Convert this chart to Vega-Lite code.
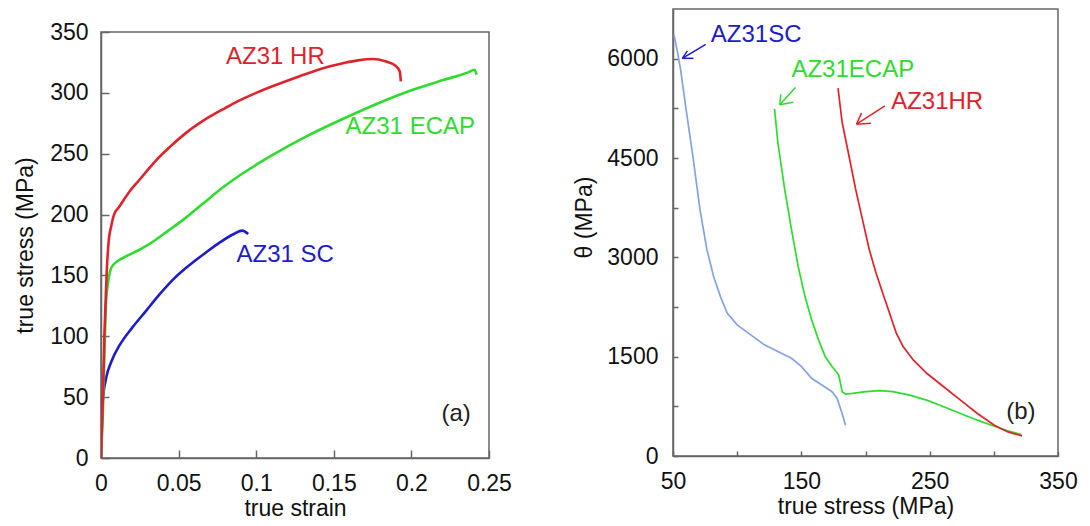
{
  "$schema": "https://vega.github.io/schema/vega-lite/v6.json",
  "padding": {"left": 13, "top": 8, "right": 0, "bottom": 0},
  "background": "white",
  "spacing": 60,
  "config": {
    "view": {"stroke": "#666666", "strokeWidth": 1.5},
    "axis": {
      "labelFont": "Liberation Sans", "labelFontSize": 23, "labelColor": "#111111",
      "titleFont": "Liberation Sans", "titleFontSize": 23, "titleFontWeight": "normal", "titleColor": "#111111",
      "domainColor": "#666666", "domainWidth": 1.5, "tickColor": "#666666", "tickWidth": 1.5,
      "grid": false, "labelFlush": false, "labelOverlap": false
    },
    "text": {"font": "Liberation Sans"}
  },
  "datasets": {
    "a": [
      {"key": "SC", "i": 0, "strain": 0, "stress": 0},
      {"key": "SC", "i": 1, "strain": 0.0011, "stress": 46.3},
      {"key": "SC", "i": 2, "strain": 0.0033, "stress": 65.6},
      {"key": "SC", "i": 3, "strain": 0.0067, "stress": 79.3},
      {"key": "SC", "i": 4, "strain": 0.0122, "stress": 93.1},
      {"key": "SC", "i": 5, "strain": 0.02, "stress": 106.9},
      {"key": "SC", "i": 6, "strain": 0.0289, "stress": 120.7},
      {"key": "SC", "i": 7, "strain": 0.0377, "stress": 134.4},
      {"key": "SC", "i": 8, "strain": 0.0477, "stress": 148.2},
      {"key": "SC", "i": 9, "strain": 0.0577, "stress": 159.2},
      {"key": "SC", "i": 10, "strain": 0.0677, "stress": 168.9},
      {"key": "SC", "i": 11, "strain": 0.0766, "stress": 177.1},
      {"key": "SC", "i": 12, "strain": 0.0855, "stress": 184},
      {"key": "SC", "i": 13, "strain": 0.091, "stress": 186.8},
      {"key": "SC", "i": 14, "strain": 0.0948, "stress": 184},
      {"key": "ECAP", "i": 0, "strain": 0, "stress": 0},
      {"key": "ECAP", "i": 1, "strain": 0.0015, "stress": 50},
      {"key": "ECAP", "i": 2, "strain": 0.0025, "stress": 100},
      {"key": "ECAP", "i": 3, "strain": 0.0033, "stress": 128.9},
      {"key": "ECAP", "i": 4, "strain": 0.0044, "stress": 142.7},
      {"key": "ECAP", "i": 5, "strain": 0.0067, "stress": 156.5},
      {"key": "ECAP", "i": 6, "strain": 0.011, "stress": 162},
      {"key": "ECAP", "i": 7, "strain": 0.0167, "stress": 166},
      {"key": "ECAP", "i": 8, "strain": 0.0255, "stress": 171.6},
      {"key": "ECAP", "i": 9, "strain": 0.0344, "stress": 178.5},
      {"key": "ECAP", "i": 10, "strain": 0.0433, "stress": 186.8},
      {"key": "ECAP", "i": 11, "strain": 0.0522, "stress": 195},
      {"key": "ECAP", "i": 12, "strain": 0.0655, "stress": 208.8},
      {"key": "ECAP", "i": 13, "strain": 0.0788, "stress": 222.6},
      {"key": "ECAP", "i": 14, "strain": 0.0944, "stress": 236.4},
      {"key": "ECAP", "i": 15, "strain": 0.112, "stress": 250},
      {"key": "ECAP", "i": 16, "strain": 0.132, "stress": 264},
      {"key": "ECAP", "i": 17, "strain": 0.1543, "stress": 277.7},
      {"key": "ECAP", "i": 18, "strain": 0.1787, "stress": 291.5},
      {"key": "ECAP", "i": 19, "strain": 0.2009, "stress": 302.5},
      {"key": "ECAP", "i": 20, "strain": 0.2209, "stress": 310.7},
      {"key": "ECAP", "i": 21, "strain": 0.2365, "stress": 316.8},
      {"key": "ECAP", "i": 22, "strain": 0.2405, "stress": 319},
      {"key": "ECAP", "i": 23, "strain": 0.2415, "stress": 317},
      {"key": "ECAP", "i": 24, "strain": 0.242, "stress": 314.9},
      {"key": "HR", "i": 0, "strain": 0, "stress": 0},
      {"key": "HR", "i": 1, "strain": 0.0012, "stress": 50},
      {"key": "HR", "i": 2, "strain": 0.0022, "stress": 101},
      {"key": "HR", "i": 3, "strain": 0.003, "stress": 130},
      {"key": "HR", "i": 4, "strain": 0.0038, "stress": 156},
      {"key": "HR", "i": 5, "strain": 0.0051, "stress": 180},
      {"key": "HR", "i": 6, "strain": 0.0065, "stress": 190},
      {"key": "HR", "i": 7, "strain": 0.0084, "stress": 200},
      {"key": "HR", "i": 8, "strain": 0.0115, "stress": 206},
      {"key": "HR", "i": 9, "strain": 0.0144, "stress": 211.6},
      {"key": "HR", "i": 10, "strain": 0.019, "stress": 220},
      {"key": "HR", "i": 11, "strain": 0.0244, "stress": 228},
      {"key": "HR", "i": 12, "strain": 0.03, "stress": 236.5},
      {"key": "HR", "i": 13, "strain": 0.0355, "stress": 244.6},
      {"key": "HR", "i": 14, "strain": 0.0444, "stress": 255.6},
      {"key": "HR", "i": 15, "strain": 0.0544, "stress": 266.7},
      {"key": "HR", "i": 16, "strain": 0.07, "stress": 280.4},
      {"key": "HR", "i": 17, "strain": 0.08, "stress": 287.5},
      {"key": "HR", "i": 18, "strain": 0.09, "stress": 294.2},
      {"key": "HR", "i": 19, "strain": 0.1, "stress": 300},
      {"key": "HR", "i": 20, "strain": 0.11, "stress": 305.2},
      {"key": "HR", "i": 21, "strain": 0.12, "stress": 310},
      {"key": "HR", "i": 22, "strain": 0.1277, "stress": 313.5},
      {"key": "HR", "i": 23, "strain": 0.1376, "stress": 318},
      {"key": "HR", "i": 24, "strain": 0.1476, "stress": 321.8},
      {"key": "HR", "i": 25, "strain": 0.1565, "stress": 324.5},
      {"key": "HR", "i": 26, "strain": 0.1654, "stress": 326.7},
      {"key": "HR", "i": 27, "strain": 0.1754, "stress": 327.8},
      {"key": "HR", "i": 28, "strain": 0.1832, "stress": 325.9},
      {"key": "HR", "i": 29, "strain": 0.1898, "stress": 322.3},
      {"key": "HR", "i": 30, "strain": 0.1925, "stress": 317.6},
      {"key": "HR", "i": 31, "strain": 0.1932, "stress": 309.4}
    ],
    "labelsA": [
      {"key": "HR", "txt": "AZ31 HR", "strain": 0.0806, "stress": 329.8},
      {"key": "ECAP", "txt": "AZ31 ECAP", "strain": 0.1576, "stress": 272.2},
      {"key": "SC", "txt": "AZ31 SC", "strain": 0.0873, "stress": 167},
      {"key": "note", "txt": "(a)", "strain": 0.2194, "stress": 35.8}
    ],
    "b": [
      {"key": "SC light", "i": 0, "s": 50.8, "theta": 6358},
      {"key": "SC light", "i": 1, "s": 53.5, "theta": 6100},
      {"key": "SC light", "i": 2, "s": 55.8, "theta": 5849},
      {"key": "SC light", "i": 3, "s": 60.5, "theta": 5191},
      {"key": "SC light", "i": 4, "s": 65.8, "theta": 4484},
      {"key": "SC light", "i": 5, "s": 71, "theta": 3725},
      {"key": "SC light", "i": 6, "s": 76.4, "theta": 3119},
      {"key": "SC light", "i": 7, "s": 81.6, "theta": 2714},
      {"key": "SC light", "i": 8, "s": 86.9, "theta": 2411},
      {"key": "SC light", "i": 9, "s": 92.2, "theta": 2158},
      {"key": "SC light", "i": 10, "s": 100, "theta": 1981},
      {"key": "SC light", "i": 11, "s": 110.6, "theta": 1830},
      {"key": "SC light", "i": 12, "s": 121.2, "theta": 1678},
      {"key": "SC light", "i": 13, "s": 131.7, "theta": 1577},
      {"key": "SC light", "i": 14, "s": 142.3, "theta": 1476},
      {"key": "SC light", "i": 15, "s": 150.2, "theta": 1350},
      {"key": "SC light", "i": 16, "s": 158, "theta": 1173},
      {"key": "SC light", "i": 17, "s": 166, "theta": 1072},
      {"key": "SC light", "i": 18, "s": 173.9, "theta": 971},
      {"key": "SC light", "i": 19, "s": 177.9, "theta": 869},
      {"key": "SC light", "i": 20, "s": 181.8, "theta": 642},
      {"key": "SC light", "i": 21, "s": 184.4, "theta": 465},
      {"key": "ECAP", "i": 0, "s": 129.1, "theta": 5242},
      {"key": "ECAP", "i": 1, "s": 131.7, "theta": 4737},
      {"key": "ECAP", "i": 2, "s": 137, "theta": 4029},
      {"key": "ECAP", "i": 3, "s": 142.3, "theta": 3422},
      {"key": "ECAP", "i": 4, "s": 147.5, "theta": 2866},
      {"key": "ECAP", "i": 5, "s": 152.8, "theta": 2411},
      {"key": "ECAP", "i": 6, "s": 158, "theta": 2057},
      {"key": "ECAP", "i": 7, "s": 163.4, "theta": 1754},
      {"key": "ECAP", "i": 8, "s": 168.6, "theta": 1501},
      {"key": "ECAP", "i": 9, "s": 173.9, "theta": 1350},
      {"key": "ECAP", "i": 10, "s": 179.2, "theta": 1223},
      {"key": "ECAP", "i": 11, "s": 181.8, "theta": 971},
      {"key": "ECAP", "i": 12, "s": 184.4, "theta": 935},
      {"key": "ECAP", "i": 13, "s": 189.7, "theta": 945},
      {"key": "ECAP", "i": 14, "s": 200.3, "theta": 971},
      {"key": "ECAP", "i": 15, "s": 210.8, "theta": 986},
      {"key": "ECAP", "i": 16, "s": 221.3, "theta": 971},
      {"key": "ECAP", "i": 17, "s": 234.5, "theta": 920},
      {"key": "ECAP", "i": 18, "s": 247.7, "theta": 844},
      {"key": "ECAP", "i": 19, "s": 260.9, "theta": 743},
      {"key": "ECAP", "i": 20, "s": 274, "theta": 642},
      {"key": "ECAP", "i": 21, "s": 287.2, "theta": 541},
      {"key": "ECAP", "i": 22, "s": 300.4, "theta": 450},
      {"key": "ECAP", "i": 23, "s": 311, "theta": 379},
      {"key": "ECAP", "i": 24, "s": 321.5, "theta": 324},
      {"key": "HR", "i": 0, "s": 178.6, "theta": 5556},
      {"key": "HR", "i": 1, "s": 181.8, "theta": 5040},
      {"key": "HR", "i": 2, "s": 187.1, "theta": 4534},
      {"key": "HR", "i": 3, "s": 192.3, "theta": 4029},
      {"key": "HR", "i": 4, "s": 197.6, "theta": 3574},
      {"key": "HR", "i": 5, "s": 202.9, "theta": 3119},
      {"key": "HR", "i": 6, "s": 208.2, "theta": 2765},
      {"key": "HR", "i": 7, "s": 213.4, "theta": 2462},
      {"key": "HR", "i": 8, "s": 218.7, "theta": 2158},
      {"key": "HR", "i": 9, "s": 224, "theta": 1855},
      {"key": "HR", "i": 10, "s": 229.3, "theta": 1653},
      {"key": "HR", "i": 11, "s": 237.2, "theta": 1451},
      {"key": "HR", "i": 12, "s": 247.7, "theta": 1249},
      {"key": "HR", "i": 13, "s": 260.9, "theta": 1046},
      {"key": "HR", "i": 14, "s": 274, "theta": 844},
      {"key": "HR", "i": 15, "s": 287.2, "theta": 642},
      {"key": "HR", "i": 16, "s": 300.4, "theta": 465},
      {"key": "HR", "i": 17, "s": 311, "theta": 364},
      {"key": "HR", "i": 18, "s": 322, "theta": 303}
    ],
    "labelsB": [
      {"key": "SC", "txt": "AZ31SC", "s": 79.5, "theta": 6354},
      {"key": "ECAP", "txt": "AZ31ECAP", "s": 142.3, "theta": 5823},
      {"key": "HR", "txt": "AZ31HR", "s": 220, "theta": 5343},
      {"key": "note", "txt": "(b)", "s": 309.6, "theta": 667}
    ],
    "arrows": [
      {"key": "SC", "s": 57.3, "theta": 6005, "s2": 75.5, "theta2": 6216},
      {"key": "SC", "s": 57.3, "theta": 6005, "s2": 61.2, "theta2": 6117},
      {"key": "SC", "s": 57.3, "theta": 6005, "s2": 65.9, "theta2": 6005},
      {"key": "ECAP", "s": 133.2, "theta": 5303, "s2": 145.4, "theta2": 5564},
      {"key": "ECAP", "s": 133.2, "theta": 5303, "s2": 134.0, "theta2": 5463},
      {"key": "ECAP", "s": 133.2, "theta": 5303, "s2": 143.6, "theta2": 5342},
      {"key": "HR", "s": 193.0, "theta": 5011, "s2": 215.1, "theta2": 5288},
      {"key": "HR", "s": 193.0, "theta": 5011, "s2": 196.9, "theta2": 5177},
      {"key": "HR", "s": 193.0, "theta": 5011, "s2": 204.2, "theta2": 5026}
    ]
  },
  "hconcat": [
    {
      "spacing": 0,
      "vconcat": [
        {
          "width": 388,
          "height": 11,
          "view": {"stroke": null},
          "data": {"values": []},
          "mark": "point"
        },
        {
          "width": 388,
          "height": 426,
          "layer": [
            {
              "data": {"name": "a"},
              "mark": {"type": "line", "strokeWidth": 2.6, "clip": true, "interpolate": "monotone"},
              "encoding": {
                "x": {"field": "strain", "type": "quantitative", "scale": {"domain": [0, 0.25], "nice": false},
                  "axis": {"title": "true strain", "values": [0, 0.025, 0.05, 0.075, 0.1, 0.125, 0.15, 0.175, 0.2, 0.225, 0.25],
                    "format": "~g",
                    "labelExpr": "round(datum.value*1000) % 50 === 0 ? datum.label : ''",
                    "tickSize": {"condition": {"test": "round(datum.value*1000) % 50 === 0", "value": -8}, "value": -4},
                    "labelPadding": 22, "titlePadding": 2}},
                "y": {"field": "stress", "type": "quantitative", "scale": {"domain": [0, 350], "nice": false},
                  "axis": {"title": "true stress (MPa)", "values": [0, 25, 50, 75, 100, 125, 150, 175, 200, 225, 250, 275, 300, 325, 350],
                    "labelExpr": "datum.value % 50 === 0 ? datum.label : ''",
                    "tickSize": {"condition": {"test": "datum.value % 50 === 0", "value": -8}, "value": -4},
                    "labelPadding": 21, "titlePadding": 12}},
                "color": {"field": "key", "type": "nominal", "legend": null,
                  "scale": {"domain": ["HR", "ECAP", "SC", "SC light", "note"], "range": ["#e0232b", "#2edc2e", "#1c1cc8", "#85a3df", "#222222"]}},
                "order": {"field": "i", "type": "quantitative"}
              }
            },
            {
              "data": {"name": "labelsA"},
              "mark": {"type": "text", "align": "left", "baseline": "middle", "fontSize": 24},
              "encoding": {
                "x": {"field": "strain", "type": "quantitative"},
                "y": {"field": "stress", "type": "quantitative"},
                "text": {"field": "txt"},
                "color": {"field": "key", "type": "nominal", "legend": null,
                  "scale": {"domain": ["HR", "ECAP", "SC", "SC light", "note"], "range": ["#e0232b", "#2edc2e", "#1c1cc8", "#85a3df", "#222222"]}}
              }
            }
          ]
        }
      ]
    },
    {
      "width": 385,
      "height": 447,
      "layer": [
        {
          "data": {"name": "b"},
          "mark": {"type": "line", "strokeWidth": 1.7, "clip": true},
          "encoding": {
            "x": {"field": "s", "type": "quantitative", "scale": {"domain": [50, 350], "nice": false},
              "axis": {"title": "true stress (MPa)", "values": [50, 100, 150, 200, 250, 300, 350],
                "labelExpr": "(datum.value - 50) % 100 === 0 ? datum.label : ''",
                "tickSize": -5, "labelPadding": 19, "titlePadding": 2}},
            "y": {"field": "theta", "type": "quantitative", "scale": {"domain": [0, 6750], "nice": false},
              "axis": {"title": "θ  (MPa)", "values": [0, 750, 1500, 2250, 3000, 3750, 4500, 5250, 6000],
                "labelExpr": "datum.value % 1500 === 0 ? datum.label : ''",
                "format": "d", "titleY": 208,
                "tickSize": -5, "labelPadding": 20, "titlePadding": 10}},
            "color": {"field": "key", "type": "nominal", "legend": null,
              "scale": {"domain": ["HR", "ECAP", "SC", "SC light", "note"], "range": ["#e0232b", "#2edc2e", "#1c1cc8", "#85a3df", "#222222"]}},
            "order": {"field": "i", "type": "quantitative"}
          }
        },
        {
          "data": {"name": "arrows"},
          "mark": {"type": "rule", "strokeWidth": 1.5},
          "encoding": {
            "x": {"field": "s", "type": "quantitative"},
            "y": {"field": "theta", "type": "quantitative"},
            "x2": {"field": "s2"},
            "y2": {"field": "theta2"},
            "color": {"field": "key", "type": "nominal", "legend": null,
              "scale": {"domain": ["HR", "ECAP", "SC", "SC light", "note"], "range": ["#e0232b", "#2edc2e", "#1c1cc8", "#85a3df", "#222222"]}}
          }
        },
        {
          "data": {"name": "labelsB"},
          "mark": {"type": "text", "align": "left", "baseline": "middle", "fontSize": 24},
          "encoding": {
            "x": {"field": "s", "type": "quantitative"},
            "y": {"field": "theta", "type": "quantitative"},
            "text": {"field": "txt"},
            "color": {"field": "key", "type": "nominal", "legend": null,
              "scale": {"domain": ["HR", "ECAP", "SC", "SC light", "note"], "range": ["#e0232b", "#2edc2e", "#1c1cc8", "#85a3df", "#222222"]}}
          }
        }
      ]
    }
  ]
}
